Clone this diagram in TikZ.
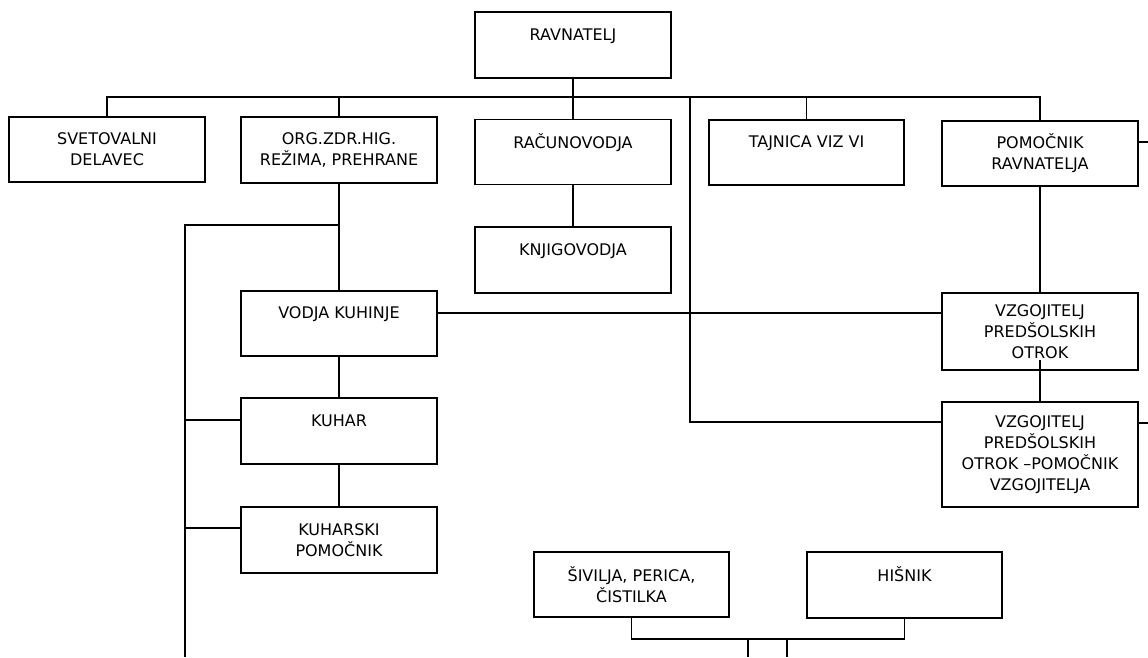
\documentclass[tikz,border=0pt]{standalone}
\usepackage{fontspec}
\setmainfont{DejaVu Sans}
\begin{document}
\begin{tikzpicture}[x=1pt,y=-1pt,
  box/.style={draw, line width=1.4pt, inner sep=0pt, align=center,
    minimum width=196pt, minimum height=65pt,
    font=\fontsize{16}{21}\selectfont},
  conn/.style={line width=1.2pt}]
\fill[white] (0,0) rectangle (1148,657);
\useasboundingbox (0,0) rectangle (1148,657);
% boxes
\node[box, minimum height=66pt] (rav) at (573,45) {RAVNATELJ\\~};
\node[box] (svet) at (107,149.5) {SVETOVALNI\\DELAVEC};
\node[box, minimum height=66pt] (org) at (339,150) {ORG.ZDR.HIG.\\REŽIMA, PREHRANE};
\node[box] (rac) at (573,152) {RAČUNOVODJA\\~};
\node[box, minimum width=195pt] (taj) at (806.5,152.5) {TAJNICA VIZ VI\\~};
\node[box] (pom) at (1040,153.5) {POMOČNIK\\RAVNATELJA};
\node[box, minimum height=66pt] (knj) at (573,260) {KNJIGOVODJA\\~};
\node[box] (vod) at (339,323.5) {VODJA KUHINJE\\~};
\node[box, minimum height=66pt] (kuh) at (339,431) {KUHAR\\~};
\node[box, minimum height=66pt] (kp) at (339,540) {KUHARSKI\\POMOČNIK};
\node[box, minimum height=77pt] (vz1) at (1040,331.5) {VZGOJITELJ\\PREDŠOLSKIH\\OTROK};
\node[box, minimum height=105pt] (vz2) at (1040,454.5) {VZGOJITELJ\\PREDŠOLSKIH\\OTROK –POMOČNIK\\VZGOJITELJA};
\node[box, minimum width=195pt] (siv) at (631.5,584.5) {ŠIVILJA, PERICA,\\ČISTILKA};
\node[box, minimum width=195pt, minimum height=66pt] (his) at (904.5,585) {HIŠNIK\\~};
% helper coordinates
\coordinate (busL) at (107,97);
\coordinate (busR) at (1040,97);
\coordinate (j1) at (690,97);
\coordinate (j2) at (690,422);
\coordinate (k1) at (339,225);
\coordinate (k2) at (185,225);
\coordinate (k3) at (185,657);
\coordinate (ks1) at (185,420);
\coordinate (ks2) at (185,528);
\coordinate (vl) at (437,313);
\coordinate (vzin) at (1040,360);
\coordinate (pr) at (1148,142);
\coordinate (vr) at (1148,423);
\coordinate (bb) at (0,639);
\coordinate (d1) at (748,639);
\coordinate (d1e) at (748,657);
\coordinate (d2) at (787,639);
\coordinate (d2e) at (787,657);
% connectors
\draw[conn] (rav) -- (rac);
\draw[conn] (svet.north) -- (busL) -- (busR) -- (pom.north);
\draw[conn] (org.north) -- (org.north |- busL);
\draw[conn] (taj.north) -- (taj.north |- busL);
\draw[conn] (j1) -- (j2) -- (j2 -| vz2.west);
\draw[conn] (org) -- (vod);
\draw[conn] (k1) -- (k2) -- (k3);
\draw[conn] (ks1) -- (ks1 -| kuh.west);
\draw[conn] (ks2) -- (ks2 -| kp.west);
\draw[conn] (vod) -- (kuh);
\draw[conn] (kuh) -- (kp);
\draw[conn] (rac) -- (knj);
\draw[conn] (vl) -- (vl -| vz1.west);
\draw[conn] (pom) -- (vz1);
\draw[conn] (vzin) -- (vz2.north);
\draw[conn] (pr -| pom.east) -- (pr);
\draw[conn] (vr -| vz2.east) -- (vr);
\draw[conn] (siv.south) -- (siv.south |- bb) -- (his.south |- bb) -- (his.south);
\draw[conn] (d1) -- (d1e);
\draw[conn] (d2) -- (d2e);
\end{tikzpicture}
\end{document}
